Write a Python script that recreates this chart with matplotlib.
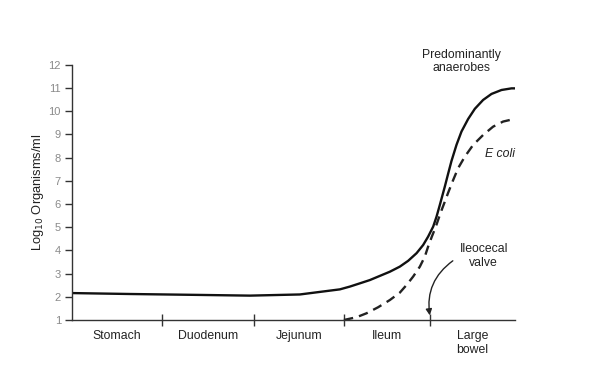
import matplotlib
matplotlib.use("Agg")
import matplotlib.pyplot as plt

plt.rcParams['font.family'] = ['Liberation Sans', 'DejaVu Sans']

# gut sections (boundaries along the x axis, in section units)
regions = ["Stomach", "Duodenum", "Jejunum", "Ileum", "Large\nbowel"]
bounds = [0, 1.016, 2.05, 3.07, 4.04, 5.0]

# predominantly anaerobes (solid)
x_anaer = [0, 0.655, 1.445, 2.009, 2.573, 3.025, 3.138, 3.251, 3.363, 3.476,
           3.589, 3.702, 3.796, 3.891, 3.965, 4.021, 4.078, 4.116, 4.153,
           4.21, 4.247, 4.285, 4.342, 4.398, 4.473, 4.549, 4.642, 4.737,
           4.85, 4.963, 5.0]
y_anaer = [2.16, 2.12, 2.08, 2.05, 2.10, 2.32, 2.44, 2.58, 2.72, 2.90,
           3.08, 3.30, 3.55, 3.88, 4.23, 4.59, 5.02, 5.45, 5.95,
           6.75, 7.30, 7.85, 8.55, 9.12, 9.66, 10.10, 10.48, 10.74,
           10.91, 10.98, 10.98]

# E coli (dashed)
x_ecoli = [3.07, 3.213, 3.326, 3.457, 3.589, 3.702, 3.778, 3.852, 3.928,
           3.984, 4.021, 4.063, 4.108, 4.142, 4.176, 4.21, 4.247, 4.304,
           4.36, 4.436, 4.529, 4.642, 4.755, 4.868, 4.981]
y_ecoli = [1.0, 1.12, 1.29, 1.55, 1.86, 2.18, 2.51, 2.87, 3.30,
           3.73, 4.16, 4.59, 5.02, 5.40, 5.76, 6.10, 6.48, 7.03,
           7.54, 8.04, 8.54, 8.97, 9.33, 9.55, 9.65]

yticks = list(range(1, 13))

fig = plt.figure(figsize=(6, 3.83), dpi=100)
ax = fig.add_axes([0.12, 0.1645, 0.738, 0.6666])

ax.plot(x_anaer, y_anaer, color='#111111', lw=1.7, solid_joinstyle='round')
ax.plot(x_ecoli, y_ecoli, color='#222222', lw=1.7, linestyle=(0, (4, 2.6)))

ax.set_xlim(0, 5)
ax.set_ylim(1, 12)
ax.spines['top'].set_visible(False)
ax.spines['right'].set_visible(False)
for side in ['left', 'bottom']:
    ax.spines[side].set_color('#333333')
    ax.spines[side].set_linewidth(1.0)

ax.set_yticks(yticks)
ax.tick_params(axis='y', direction='out', length=5, width=1, color='#333333',
               labelsize=8, labelcolor='#8a8a8a', pad=3)
ax.set_xticks(bounds[1:-1])
ax.set_xticklabels([])
ax.tick_params(axis='x', direction='inout', length=9, width=1, color='#333333')

for i, name in enumerate(regions):
    mid = (bounds[i] + bounds[i + 1]) / 2
    ax.text(mid, 0.56, name, ha='center', va='top', fontsize=8.8,
            color='#222222', linespacing=1.15)

ax.set_ylabel("Log$_{10}$ Organisms/ml", fontsize=9.3, color='#222222',
              labelpad=2)

ax.text(4.40, 12.15, "Predominantly\nanaerobes", ha='center', va='center',
        fontsize=8.8, color='#222222', linespacing=1.1)
ax.text(5.0, 8.15, "E coli", ha='right', va='center', fontsize=8.8,
        style='italic', color='#222222')
ax.text(4.65, 3.76, "Ileocecal\nvalve", ha='center', va='center',
        fontsize=8.8, color='#222222', linespacing=1.15)
ax.annotate("", xy=(bounds[4], 1.2), xytext=(4.30, 3.55),
            arrowprops=dict(arrowstyle='-|>', color='#222222', lw=1.0,
                            mutation_scale=9, shrinkA=0, shrinkB=0,
                            connectionstyle='arc3,rad=0.3'),
            annotation_clip=False)

fig.savefig("out.png", dpi=100)
